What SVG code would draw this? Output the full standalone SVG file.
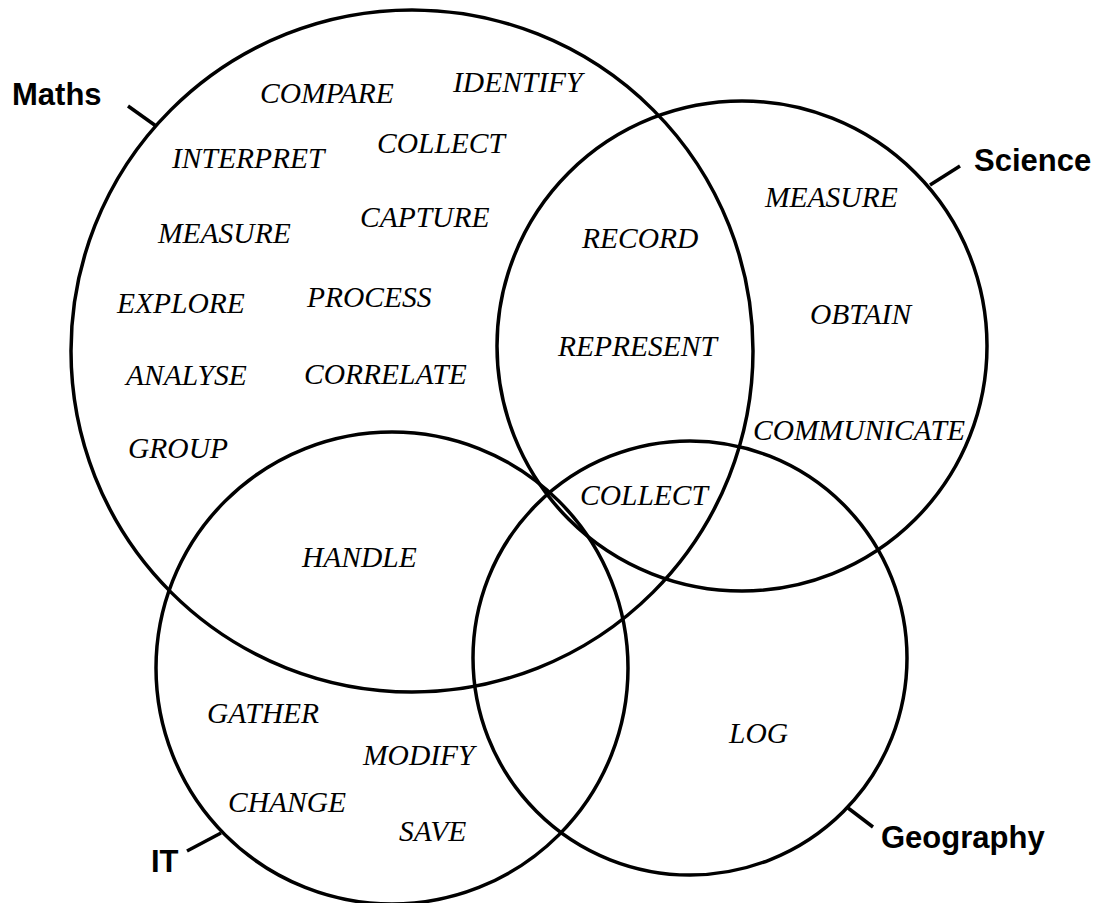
<svg xmlns="http://www.w3.org/2000/svg" width="1103" height="903" viewBox="0 0 1103 903">
<style>
.c{fill:none;stroke:#000;stroke-width:3.5}
.t{stroke:#000;stroke-width:3.5;fill:none}
.w{font-family:"Liberation Serif","Times New Roman",serif;font-style:italic;font-size:29.5px;fill:#000}
.l{font-family:"Liberation Sans",Arial,sans-serif;font-weight:bold;font-size:31px;fill:#000}
</style>
<rect width="1103" height="903" fill="#fff"/>
<g id="maths">
<circle class="c" cx="412" cy="351" r="341"/>
<text class="l" x="12" y="105">Maths</text>
<text class="w" x="260" y="103">COMPARE</text>
<text class="w" x="453" y="92">IDENTIFY</text>
<text class="w" x="377" y="153">COLLECT</text>
<text class="w" x="172" y="168">INTERPRET</text>
<text class="w" x="158" y="243">MEASURE</text>
<text class="w" x="360" y="227">CAPTURE</text>
<text class="w" x="117" y="313">EXPLORE</text>
<text class="w" x="307" y="307">PROCESS</text>
<text class="w" x="126" y="385">ANALYSE</text>
<text class="w" x="304" y="384">CORRELATE</text>
<text class="w" x="128" y="458">GROUP</text>
</g>
<g id="science">
<circle class="c" cx="742" cy="346" r="245"/>
<text class="l" x="974" y="171">Science</text>
<text class="w" x="765" y="207">MEASURE</text>
<text class="w" x="810" y="324">OBTAIN</text>
<text class="w" x="753" y="440">COMMUNICATE</text>
</g>
<g id="maths-science">
<text class="w" x="582" y="248">RECORD</text>
<text class="w" x="558" y="356">REPRESENT</text>
</g>
<g id="centre">
<text class="w" x="580" y="505">COLLECT</text>
</g>
<g id="it">
<circle class="c" cx="392" cy="668" r="236"/>
<text class="l" x="151" y="872">IT</text>
<text class="w" x="207" y="723">GATHER</text>
<text class="w" x="363" y="765">MODIFY</text>
<text class="w" x="228" y="812">CHANGE</text>
<text class="w" x="399" y="841">SAVE</text>
</g>
<g id="maths-it">
<text class="w" x="302" y="567">HANDLE</text>
</g>
<g id="geography">
<circle class="c" cx="690" cy="658" r="217"/>
<text class="l" x="881" y="848">Geography</text>
<text class="w" x="729" y="743">LOG</text>
</g>
<g id="connectors">
<line class="t" x1="128" y1="106" x2="156" y2="126"/>
<line class="t" x1="930" y1="185" x2="960" y2="166"/>
<line class="t" x1="187" y1="851" x2="221" y2="833"/>
<line class="t" x1="848" y1="808" x2="873" y2="827"/>
</g>
</svg>
